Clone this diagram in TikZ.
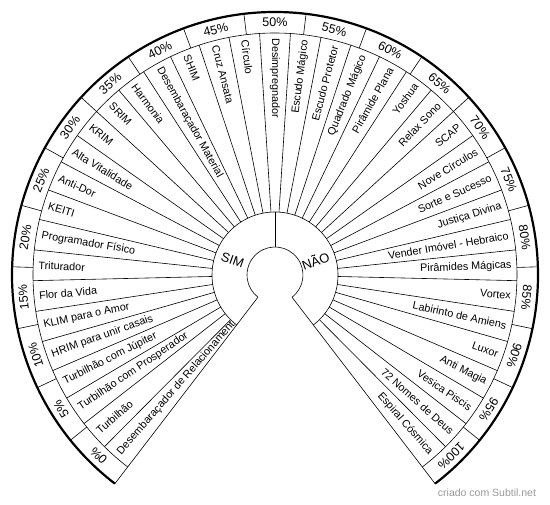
\documentclass[tikz,border=0pt]{standalone}
\usepackage{fontspec}
\setmainfont{Liberation Sans}
\begin{document}
\begin{tikzpicture}[x=1pt,y=1pt,line width=0.6pt,
  lbl/.style={font=\fontsize{10.8}{12}\selectfont,inner sep=0pt},
  pct/.style={font=\fontsize{12.5}{14}\selectfont,inner sep=0pt},
  yn/.style={font=\fontsize{13}{15}\selectfont,inner sep=0pt},
  rim/.style={line width=2.2pt}]
\useasboundingbox (-275,-230) rectangle (275,275);
% key radii
\coordinate (c0) at (0,0);
\coordinate (la) at (232.5:28); \coordinate (lb) at (232.5:263);
\coordinate (ra) at (-52.5:28); \coordinate (rb) at (-52.5:263);
\coordinate (ta) at (90:28); \coordinate (tb) at (90:63);
\draw (la) -- (lb);
\draw (ra) -- (rb);
\draw (ra) arc[start angle=-52.5,end angle=232.5,radius=28];
\draw (-52.5:63) arc[start angle=-52.5,end angle=232.5,radius=63];
\draw (-52.5:242) arc[start angle=-52.5,end angle=232.5,radius=242];
\draw[rim] (rb) arc[start angle=-52.5,end angle=232.5,radius=263];
\draw (ta) -- (tb);
% sector dividers
\foreach \i in {1,...,38}{
  \pgfmathsetmacro\a{232.5-\i*285/39}
  \draw (\a:63) -- (\a:242);
}
% percentage dividers
\foreach \k in {1,...,20}{
  \pgfmathsetmacro\a{232.5-\k*285/21}
  \draw (\a:242) -- (\a:263);
}
% percentage labels
\foreach \k in {0,...,20}{
  \pgfmathsetmacro\a{232.5-(\k+0.5)*285/21}
  \pgfmathtruncatemacro\v{\k*5}
  \pgfmathsetmacro\r{\a-90}
  \node[pct,rotate=\r] (p\k) at (\a:252.5) {\v\%};
}
% sector labels
\foreach \t [count=\i] in {Desembaraçador de Relacionamento,Turbilhão,Turbilhão com Prosperador,Turbilhão com Júpiter,HRIM para unir casais,KLIM para o Amor,Flor da Vida,Triturador,Programador Físico,KEITI,Anti-Dor,Alta Vitalidade,KRIM,SRIM,Harmonia,Desembaraçador Material,SHIM,Cruz Ansata,Círculo,Desimpregnador,Escudo Mágico,Escudo Protetor,Quadrado Mágico,Pirâmide Plana,Yoshua,Relax Sono,SCAP,Nove Círculos,Sorte e Sucesso,Justiça Divina,Vender Imóvel - Hebraico,Pirâmides Mágicas,Vortex,Labirinto de Amiens,Luxor,Anti Magia,Vesica Piscis,72 Nomes de Deus,Espiral Cósmica}{
  \pgfmathsetmacro\a{232.5-(\i-0.5)*285/39}
  \pgfmathsetmacro\aa{232.5-(\i-1)*285/39}
  \pgfmathsetmacro\ab{232.5-\i*285/39}
  \begin{scope}
    \clip (\ab:63) arc[start angle=\ab,end angle=\aa,radius=63] -- (\aa:242) arc[start angle=\aa,end angle=\ab,radius=242] -- cycle;
    \ifnum\i<21
      \pgfmathsetmacro\r{\a-180}
      \node[lbl,anchor=west,rotate=\r] (s\i) at (\a:237) {\t};
    \else
      \node[lbl,anchor=east,rotate=\a] (s\i) at (\a:237) {\t};
    \fi
  \end{scope}
}
\node[yn,rotate=-19.5] (sim) at (160.5:45) {SIM};
\node[yn,rotate=20] (nao) at (20:43) {NÃO};
\node[font=\fontsize{10.5}{12}\selectfont,text=gray!80,inner sep=0pt] (wm) at (212,-218) {criado com Subtil.net};
\end{tikzpicture}
\end{document}
